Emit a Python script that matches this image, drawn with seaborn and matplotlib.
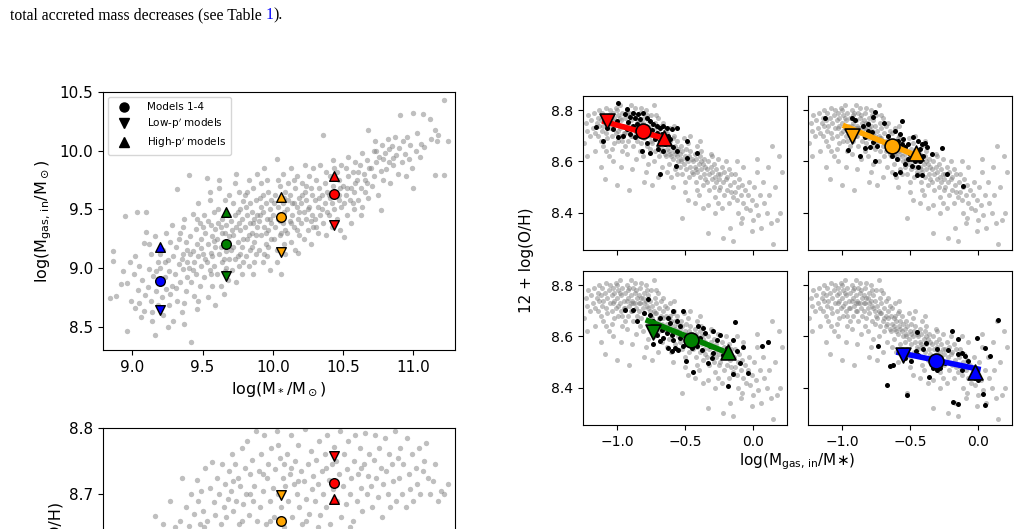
import numpy as np
import matplotlib
matplotlib.use('Agg')
import matplotlib.pyplot as plt
import seaborn as sns
from matplotlib.lines import Line2D

# ---- model points (order: blue, green, orange, red) ----
model_colors = ['blue', 'green', 'orange', 'red']
model_mstar = [9.20, 9.664, 10.06, 10.44]
model_mgas_mid = [8.891, 9.206, 9.430, 9.632]
model_mgas_low = [8.645, 8.928, 9.133, 9.365]
model_mgas_high = [9.175, 9.480, 9.606, 9.785]
model_oh_mid = [8.503, 8.586, 8.660, 8.717]
model_oh_low = [8.527, 8.616, 8.698, 8.757]
model_oh_high = [8.460, 8.538, 8.631, 8.693]

# linear trends drawn in the right panels (start / end)
trend_x = {'red': [-1.09, -0.65], 'orange': [-0.975, -0.45],
           'green': [-0.77, -0.18], 'blue': [-0.58, 0.0]}
trend_y = {'red': [8.755, 8.690], 'orange': [8.737, 8.622],
           'green': [8.661, 8.535], 'blue': [8.537, 8.473]}

# ---- background sample: log M* vs log Mgas,in ----
mstar_mgas_cloud = [
    (8.84, 8.74), (8.86, 9.06), (8.86, 9.14), (8.88, 8.76),
    (8.92, 8.86), (8.95, 9.44), (8.96, 8.46), (8.96, 8.87), (8.98, 9.05), (8.93, 8.97), (8.99, 8.72),
    (9.01, 8.95), (9.02, 8.66), (9.03, 9.48), (9.04, 8.81), (9.05, 9.02), (9.06, 8.58), (9.07, 8.90),
    (9.08, 9.21), (9.09, 8.77), (9.05, 8.70), (9.02, 9.10), (9.08, 8.63),
    (9.10, 9.48), (9.10, 9.31), (9.11, 8.84), (9.12, 8.99), (9.13, 8.72), (9.13, 9.12), (9.14, 8.62),
    (9.15, 8.93), (9.16, 8.43), (9.16, 9.27), (9.17, 8.80), (9.18, 9.05), (9.18, 8.68), (9.19, 8.88),
    (9.12, 9.20), (9.17, 8.97), (9.14, 8.55),
    (9.20, 9.00), (9.21, 8.75), (9.22, 9.15), (9.22, 8.60), (9.23, 8.92), (9.24, 9.30), (9.24, 8.82),
    (9.25, 9.07), (9.26, 8.68), (9.26, 8.97), (9.27, 9.22), (9.28, 9.37), (9.28, 8.85), (9.29, 8.55),
    (9.29, 9.10), (9.21, 8.87), (9.23, 9.05), (9.27, 8.78), (9.25, 8.50), (9.20, 9.12),
    (9.30, 8.95), (9.31, 9.18), (9.32, 9.67), (9.32, 8.72), (9.33, 9.03), (9.34, 8.88), (9.34, 9.30),
    (9.35, 8.62), (9.36, 9.12), (9.36, 8.99), (9.37, 8.52), (9.37, 9.42), (9.38, 8.80), (9.38, 9.22),
    (9.39, 9.05), (9.39, 8.92), (9.31, 8.83), (9.33, 9.25), (9.35, 9.08), (9.37, 8.70), (9.36, 9.35),
    (9.39, 9.15),
    (9.40, 9.79), (9.40, 9.00), (9.41, 9.27), (9.42, 8.37), (9.42, 8.88), (9.43, 9.14), (9.43, 9.46),
    (9.44, 8.76), (9.44, 9.05), (9.45, 9.33), (9.45, 8.95), (9.46, 9.20), (9.46, 8.65), (9.47, 9.10),
    (9.47, 9.55), (9.48, 8.85), (9.48, 9.38), (9.49, 9.02), (9.49, 9.25), (9.41, 9.12), (9.43, 8.98),
    (9.46, 9.42), (9.47, 8.72), (9.49, 9.17),
    (9.50, 9.12), (9.51, 8.92), (9.51, 9.45), (9.52, 9.30), (9.53, 9.77), (9.53, 9.05), (9.54, 8.75),
    (9.54, 9.20), (9.55, 9.58), (9.55, 8.98), (9.56, 9.37), (9.56, 9.13), (9.57, 8.85), (9.57, 9.27),
    (9.58, 9.48), (9.58, 9.02), (9.59, 9.18), (9.59, 8.68), (9.50, 9.35), (9.52, 9.08), (9.54, 9.40),
    (9.56, 8.95), (9.58, 9.23), (9.55, 9.65), (9.57, 9.10), (9.59, 9.33),
    (9.60, 9.25), (9.60, 8.95), (9.61, 9.50), (9.62, 9.12), (9.62, 9.68), (9.63, 8.85), (9.63, 9.35),
    (9.64, 9.05), (9.64, 9.42), (9.65, 9.20), (9.65, 8.78), (9.66, 9.58), (9.66, 9.30), (9.67, 9.00),
    (9.67, 9.14), (9.68, 9.45), (9.68, 8.90), (9.69, 9.27), (9.69, 9.62), (9.61, 9.38), (9.63, 9.18),
    (9.65, 9.08), (9.67, 9.37), (9.69, 9.08), (9.62, 9.75), (9.66, 8.97), (9.68, 9.22), (9.64, 9.30),
    (9.70, 9.15), (9.70, 9.40), (9.71, 8.98), (9.72, 9.28), (9.72, 9.55), (9.73, 9.08), (9.73, 9.72),
    (9.74, 9.35), (9.74, 8.88), (9.75, 9.22), (9.75, 9.48), (9.76, 9.02), (9.76, 9.65), (9.77, 9.32),
    (9.77, 9.12), (9.78, 9.42), (9.78, 8.95), (9.79, 9.25), (9.79, 9.57), (9.71, 9.32), (9.73, 9.45),
    (9.75, 9.10), (9.77, 9.50), (9.79, 9.05), (9.74, 9.80), (9.76, 9.38), (9.78, 9.18), (9.72, 9.18),
    (9.80, 9.35), (9.80, 9.62), (9.81, 9.10), (9.82, 9.45), (9.82, 9.25), (9.83, 9.75), (9.83, 9.02),
    (9.84, 9.38), (9.84, 9.55), (9.85, 9.18), (9.85, 9.30), (9.86, 9.68), (9.86, 8.95), (9.87, 9.42),
    (9.87, 9.22), (9.88, 9.58), (9.88, 9.12), (9.89, 9.35), (9.89, 9.80), (9.81, 9.52), (9.83, 9.28),
    (9.85, 9.48), (9.87, 9.05), (9.89, 9.45), (9.84, 9.15), (9.86, 9.38), (9.88, 9.28), (9.82, 9.65),
    (9.90, 9.40), (9.90, 9.15), (9.91, 9.60), (9.92, 9.28), (9.92, 9.72), (9.93, 9.05), (9.93, 9.48),
    (9.94, 9.35), (9.94, 9.85), (9.95, 9.20), (9.95, 9.55), (9.96, 9.42), (9.96, 9.10), (9.97, 9.65),
    (9.97, 9.32), (9.98, 9.50), (9.98, 8.98), (9.99, 9.38), (9.99, 9.25), (9.91, 9.45), (9.93, 9.62),
    (9.95, 9.30), (9.97, 9.18), (9.99, 9.58), (9.92, 9.52), (9.96, 9.75), (9.98, 9.42), (9.94, 9.12),
    (10.00, 9.45), (10.01, 9.25), (10.02, 9.62), (10.02, 9.35), (10.03, 9.93), (10.03, 9.15),
    (10.04, 9.52), (10.04, 9.42), (10.05, 9.70), (10.05, 9.28), (10.06, 8.95), (10.06, 9.58),
    (10.07, 9.38), (10.07, 9.80), (10.08, 9.20), (10.08, 9.48), (10.09, 9.65), (10.09, 9.32),
    (10.01, 9.55), (10.03, 9.05), (10.05, 9.40), (10.07, 9.55), (10.09, 9.12), (10.04, 9.75),
    (10.06, 9.30), (10.08, 9.60),
    (10.10, 9.50), (10.10, 9.30), (10.11, 9.72), (10.12, 9.40), (10.12, 9.62), (10.13, 9.22),
    (10.13, 9.85), (10.14, 9.55), (10.14, 9.45), (10.15, 9.35), (10.16, 9.68), (10.16, 9.15),
    (10.17, 9.52), (10.17, 9.78), (10.18, 9.13), (10.18, 9.42), (10.19, 9.60), (10.19, 9.28),
    (10.11, 9.58), (10.13, 9.38), (10.15, 9.75), (10.17, 9.32), (10.19, 9.48), (10.15, 9.55),
    (10.20, 9.55), (10.20, 9.38), (10.21, 9.72), (10.22, 9.48), (10.22, 9.25), (10.23, 9.65),
    (10.23, 9.88), (10.24, 9.42), (10.24, 9.58), (10.25, 9.32), (10.26, 9.78), (10.26, 9.52),
    (10.27, 9.68), (10.27, 9.20), (10.28, 9.45), (10.28, 9.62), (10.29, 9.35), (10.29, 9.85),
    (10.21, 9.62), (10.25, 9.50), (10.27, 9.40), (10.24, 9.70),
    (10.30, 9.58), (10.30, 9.42), (10.31, 9.75), (10.32, 9.52), (10.32, 9.30), (10.33, 9.68),
    (10.34, 9.88), (10.34, 9.45), (10.35, 9.62), (10.36, 10.13), (10.36, 9.38), (10.37, 9.72),
    (10.37, 9.55), (10.38, 9.28), (10.38, 9.82), (10.39, 9.48), (10.39, 9.65), (10.31, 9.35),
    (10.33, 9.60), (10.35, 9.50),
    (10.40, 9.62), (10.40, 9.45), (10.41, 9.78), (10.42, 9.55), (10.42, 9.35), (10.43, 9.70),
    (10.43, 9.92), (10.44, 9.50), (10.45, 9.65), (10.46, 9.82), (10.46, 9.42), (10.47, 9.58),
    (10.47, 9.75), (10.48, 9.32), (10.48, 9.68), (10.49, 9.88), (10.49, 9.52), (10.41, 9.60),
    (10.44, 9.85), (10.47, 9.62),
    (10.50, 9.70), (10.51, 9.26), (10.51, 9.55), (10.52, 9.85), (10.52, 9.62), (10.53, 9.45),
    (10.54, 9.78), (10.54, 9.95), (10.55, 9.58), (10.56, 9.68), (10.56, 9.38), (10.57, 9.82),
    (10.58, 9.65), (10.58, 9.50), (10.59, 9.90), (10.59, 9.72), (10.53, 9.68), (10.57, 9.55),
    (10.60, 9.75), (10.61, 9.58), (10.62, 9.88), (10.63, 9.68), (10.64, 9.98), (10.64, 9.52),
    (10.65, 9.80), (10.66, 9.65), (10.67, 9.92), (10.67, 9.72), (10.68, 10.18), (10.68, 9.60),
    (10.69, 9.85), (10.61, 9.82), (10.63, 9.45), (10.66, 9.75),
    (10.70, 9.85), (10.71, 9.70), (10.72, 10.00), (10.72, 9.78), (10.73, 10.08), (10.74, 9.90),
    (10.75, 9.62), (10.76, 9.95), (10.77, 9.49), (10.77, 9.83), (10.78, 10.05), (10.79, 9.75),
    (10.74, 10.00), (10.79, 9.93),
    (10.80, 9.98), (10.81, 9.84), (10.82, 10.10), (10.83, 9.90), (10.84, 9.72), (10.85, 10.04),
    (10.86, 9.88), (10.87, 10.12), (10.88, 9.96), (10.89, 9.80), (10.83, 10.01), (10.86, 9.94),
    (10.90, 10.02), (10.91, 10.30), (10.92, 9.90), (10.93, 10.08), (10.94, 9.97), (10.95, 9.78),
    (10.96, 10.12), (10.97, 9.93), (10.98, 10.05), (10.99, 9.85),
    (11.00, 10.32), (11.00, 9.68), (11.02, 10.00), (11.03, 10.15), (11.05, 9.95), (11.06, 10.06),
    (11.07, 10.31), (11.08, 10.03),
    (11.12, 10.27), (11.13, 10.10), (11.16, 10.18), (11.17, 10.08), (11.18, 10.13), (11.16, 9.79),
    (11.22, 9.79), (11.22, 10.43), (11.25, 10.08),
]

# ---- background sample: log M* vs 12+log(O/H) (upper part visible) ----
mstar_oh_cloud = [
    (9.16, 8.667), (9.22, 8.655), (9.27, 8.690), (9.30, 8.650), (9.12, 8.620), (9.25, 8.620),
    (9.34, 8.660), (9.35, 8.725), (9.38, 8.680), (9.40, 8.652), (9.42, 8.700), (9.44, 8.670),
    (9.46, 8.722), (9.47, 8.690), (9.48, 8.655), (9.49, 8.705), (9.36, 8.630), (9.45, 8.640),
    (9.50, 8.675), (9.52, 8.740), (9.53, 8.660), (9.55, 8.710), (9.57, 8.749), (9.58, 8.688),
    (9.59, 8.668), (9.60, 8.725), (9.62, 8.700), (9.63, 8.655), (9.64, 8.746), (9.65, 8.680),
    (9.66, 8.715), (9.68, 8.692), (9.69, 8.735), (9.51, 8.650), (9.61, 8.640), (9.67, 8.665),
    (9.70, 8.705), (9.71, 8.760), (9.72, 8.675), (9.73, 8.746), (9.74, 8.690), (9.75, 8.725),
    (9.76, 8.655), (9.77, 8.712), (9.78, 8.770), (9.79, 8.685), (9.80, 8.740), (9.81, 8.700),
    (9.82, 8.780), (9.83, 8.668), (9.84, 8.730), (9.85, 8.752), (9.86, 8.690), (9.87, 8.712),
    (9.88, 8.795), (9.89, 8.660), (9.72, 8.720), (9.78, 8.660), (9.84, 8.700),
    (9.90, 8.735), (9.91, 8.680), (9.92, 8.760), (9.93, 8.705), (9.94, 8.790), (9.95, 8.655),
    (9.96, 8.725), (9.97, 8.745), (9.98, 8.690), (9.99, 8.770), (10.00, 8.710), (10.01, 8.665),
    (10.02, 8.738), (10.03, 8.795), (10.04, 8.700), (10.05, 8.755), (10.06, 8.680), (10.07, 8.725),
    (10.08, 8.650), (10.09, 8.712), (9.93, 8.730), (9.98, 8.660), (10.04, 8.775), (10.08, 8.745),
    (10.10, 8.760), (10.11, 8.690), (10.12, 8.730), (10.13, 8.790), (10.14, 8.665), (10.15, 8.715),
    (10.16, 8.750), (10.17, 8.700), (10.18, 8.775), (10.19, 8.680), (10.20, 8.735), (10.21, 8.655),
    (10.22, 8.720), (10.23, 8.798), (10.24, 8.692), (10.25, 8.745), (10.26, 8.670), (10.27, 8.765),
    (10.28, 8.708), (10.29, 8.728), (10.13, 8.740), (10.18, 8.720), (10.24, 8.660),
    (10.30, 8.690), (10.31, 8.752), (10.32, 8.715), (10.33, 8.780), (10.34, 8.668), (10.35, 8.735),
    (10.36, 8.700), (10.37, 8.760), (10.38, 8.680), (10.39, 8.790), (10.40, 8.722), (10.41, 8.655),
    (10.42, 8.745), (10.43, 8.708), (10.44, 8.772), (10.46, 8.690), (10.47, 8.730), (10.48, 8.795),
    (10.49, 8.665), (10.32, 8.650), (10.38, 8.740), (10.45, 8.750),
    (10.50, 8.712), (10.51, 8.760), (10.52, 8.685), (10.53, 8.738), (10.54, 8.780), (10.55, 8.700),
    (10.56, 8.725), (10.57, 8.660), (10.58, 8.750), (10.59, 8.790), (10.60, 8.690), (10.61, 8.730),
    (10.62, 8.770), (10.63, 8.710), (10.64, 8.675), (10.65, 8.745), (10.66, 8.792), (10.67, 8.700),
    (10.68, 8.728), (10.69, 8.760), (10.55, 8.650), (10.63, 8.740),
    (10.70, 8.712), (10.71, 8.680), (10.72, 8.752), (10.73, 8.790), (10.74, 8.725), (10.75, 8.695),
    (10.76, 8.770), (10.77, 8.740), (10.78, 8.665), (10.79, 8.715), (10.80, 8.785), (10.81, 8.735),
    (10.82, 8.700), (10.83, 8.760), (10.84, 8.680), (10.85, 8.745), (10.86, 8.720), (10.87, 8.795),
    (10.88, 8.690), (10.89, 8.755),
    (10.90, 8.725), (10.91, 8.770), (10.92, 8.700), (10.93, 8.745), (10.95, 8.680), (10.96, 8.785),
    (10.97, 8.730), (10.98, 8.708), (10.99, 8.760), (11.00, 8.690), (11.02, 8.740), (11.03, 8.715),
    (11.04, 8.770), (11.05, 8.700), (11.07, 8.735), (11.08, 8.750), (11.09, 8.778),
    (11.11, 8.725), (11.12, 8.700), (11.14, 8.720), (11.16, 8.745), (11.18, 8.690), (11.20, 8.705),
    (11.22, 8.700), (11.25, 8.716),
]

# ---- background sample: log(Mgas,in/M*) vs 12+log(O/H) ----
frac_oh_cloud = [
    (-1.24, 8.67), (-1.23, 8.75), (-1.22, 8.72), (-1.21, 8.78), (-1.20, 8.70), (-1.19, 8.76),
    (-1.18, 8.73), (-1.17, 8.79), (-1.16, 8.64), (-1.16, 8.71), (-1.15, 8.75), (-1.22, 8.62),
    (-1.14, 8.77), (-1.14, 8.70), (-1.13, 8.74), (-1.13, 8.80), (-1.12, 8.68), (-1.12, 8.76),
    (-1.11, 8.72), (-1.11, 8.79), (-1.10, 8.74), (-1.10, 8.66), (-1.09, 8.77), (-1.09, 8.53),
    (-1.08, 8.71), (-1.08, 8.81), (-1.07, 8.75), (-1.07, 8.69), (-1.06, 8.78), (-1.06, 8.62),
    (-1.05, 8.73), (-1.05, 8.80), (-1.12, 8.58), (-1.08, 8.64),
    (-1.04, 8.76), (-1.04, 8.70), (-1.03, 8.79), (-1.03, 8.73), (-1.02, 8.67), (-1.02, 8.77),
    (-1.01, 8.81), (-1.01, 8.71), (-1.00, 8.75), (-1.00, 8.51), (-0.99, 8.78), (-0.99, 8.68),
    (-0.98, 8.73), (-0.98, 8.82), (-0.97, 8.70), (-0.97, 8.76), (-0.96, 8.79), (-0.96, 8.64),
    (-0.95, 8.74), (-0.95, 8.71), (-1.03, 8.60), (-1.00, 8.80), (-0.98, 8.77), (-0.97, 8.58),
    (-1.02, 8.74), (-0.99, 8.72), (-0.96, 8.68), (-1.04, 8.65),
    (-0.94, 8.77), (-0.94, 8.71), (-0.93, 8.80), (-0.93, 8.74), (-0.92, 8.68), (-0.92, 8.78),
    (-0.91, 8.72), (-0.91, 8.49), (-0.90, 8.76), (-0.90, 8.82), (-0.89, 8.70), (-0.89, 8.74),
    (-0.88, 8.79), (-0.88, 8.66), (-0.87, 8.73), (-0.87, 8.77), (-0.86, 8.71), (-0.86, 8.61),
    (-0.85, 8.75), (-0.85, 8.68), (-0.93, 8.63), (-0.91, 8.79), (-0.90, 8.70), (-0.89, 8.57),
    (-0.88, 8.73), (-0.87, 8.81), (-0.92, 8.75), (-0.86, 8.78), (-0.94, 8.66), (-0.90, 8.73),
    (-0.84, 8.76), (-0.84, 8.70), (-0.83, 8.73), (-0.83, 8.79), (-0.82, 8.67), (-0.82, 8.75),
    (-0.81, 8.71), (-0.81, 8.62), (-0.80, 8.77), (-0.80, 8.69), (-0.79, 8.74), (-0.79, 8.80),
    (-0.78, 8.66), (-0.78, 8.72), (-0.77, 8.76), (-0.77, 8.59), (-0.76, 8.70), (-0.76, 8.74),
    (-0.75, 8.68), (-0.75, 8.78), (-0.83, 8.64), (-0.80, 8.73), (-0.79, 8.56), (-0.78, 8.78),
    (-0.82, 8.81), (-0.76, 8.65), (-0.84, 8.73), (-0.81, 8.75), (-0.77, 8.71), (-0.80, 8.52),
    (-0.74, 8.72), (-0.74, 8.67), (-0.73, 8.82), (-0.73, 8.70), (-0.72, 8.75), (-0.72, 8.64),
    (-0.71, 8.69), (-0.71, 8.73), (-0.70, 8.66), (-0.70, 8.77), (-0.69, 8.62), (-0.69, 8.71),
    (-0.68, 8.68), (-0.68, 8.74), (-0.67, 8.65), (-0.67, 8.58), (-0.66, 8.70), (-0.66, 8.67),
    (-0.65, 8.63), (-0.65, 8.72), (-0.73, 8.60), (-0.71, 8.78), (-0.70, 8.54), (-0.68, 8.64),
    (-0.66, 8.75), (-0.72, 8.69), (-0.69, 8.67), (-0.74, 8.51),
    (-0.64, 8.68), (-0.64, 8.62), (-0.63, 8.71), (-0.63, 8.65), (-0.62, 8.59), (-0.62, 8.67),
    (-0.61, 8.73), (-0.61, 8.63), (-0.60, 8.66), (-0.60, 8.54), (-0.59, 8.69), (-0.59, 8.61),
    (-0.58, 8.64), (-0.58, 8.70), (-0.57, 8.57), (-0.57, 8.66), (-0.56, 8.62), (-0.56, 8.68),
    (-0.55, 8.60), (-0.55, 8.65), (-0.63, 8.56), (-0.61, 8.68), (-0.59, 8.50), (-0.58, 8.74),
    (-0.56, 8.55), (-0.62, 8.64), (-0.60, 8.62), (-0.57, 8.63),
    (-0.54, 8.63), (-0.54, 8.58), (-0.53, 8.66), (-0.53, 8.61), (-0.52, 8.55), (-0.52, 8.64),
    (-0.51, 8.69), (-0.51, 8.59), (-0.50, 8.62), (-0.50, 8.48), (-0.49, 8.65), (-0.49, 8.57),
    (-0.48, 8.60), (-0.48, 8.67), (-0.47, 8.54), (-0.47, 8.62), (-0.46, 8.58), (-0.46, 8.64),
    (-0.45, 8.56), (-0.45, 8.61), (-0.52, 8.38), (-0.50, 8.52), (-0.48, 8.45), (-0.46, 8.70),
    (-0.53, 8.60), (-0.49, 8.61),
    (-0.44, 8.60), (-0.44, 8.55), (-0.43, 8.63), (-0.43, 8.58), (-0.42, 8.52), (-0.42, 8.61),
    (-0.41, 8.66), (-0.41, 8.56), (-0.40, 8.59), (-0.40, 8.47), (-0.39, 8.62), (-0.39, 8.54),
    (-0.38, 8.57), (-0.38, 8.64), (-0.37, 8.51), (-0.37, 8.59), (-0.36, 8.55), (-0.36, 8.61),
    (-0.35, 8.53), (-0.35, 8.58), (-0.43, 8.44), (-0.41, 8.49), (-0.39, 8.68), (-0.37, 8.42),
    (-0.42, 8.57), (-0.38, 8.60),
    (-0.34, 8.57), (-0.34, 8.52), (-0.33, 8.60), (-0.33, 8.32), (-0.32, 8.55), (-0.32, 8.49),
    (-0.31, 8.58), (-0.31, 8.63), (-0.30, 8.53), (-0.30, 8.56), (-0.29, 8.50), (-0.29, 8.59),
    (-0.28, 8.54), (-0.28, 8.46), (-0.27, 8.57), (-0.27, 8.52), (-0.26, 8.55), (-0.26, 8.61),
    (-0.25, 8.49), (-0.25, 8.53), (-0.33, 8.43), (-0.30, 8.62), (-0.28, 8.40), (-0.26, 8.44),
    (-0.24, 8.55), (-0.24, 8.50), (-0.23, 8.58), (-0.22, 8.30), (-0.22, 8.52), (-0.21, 8.47),
    (-0.21, 8.56), (-0.20, 8.53), (-0.20, 8.60), (-0.19, 8.49), (-0.19, 8.54), (-0.18, 8.44),
    (-0.17, 8.51), (-0.17, 8.34), (-0.16, 8.48), (-0.16, 8.55), (-0.15, 8.29), (-0.15, 8.46),
    (-0.23, 8.42), (-0.18, 8.57),
    (-0.14, 8.52), (-0.13, 8.48), (-0.13, 8.55), (-0.12, 8.45), (-0.11, 8.50), (-0.11, 8.40),
    (-0.10, 8.53), (-0.09, 8.47), (-0.09, 8.36), (-0.08, 8.51), (-0.07, 8.44), (-0.07, 8.58),
    (-0.06, 8.49), (-0.05, 8.42), (-0.12, 8.60), (-0.08, 8.38),
    (-0.04, 8.47), (-0.03, 8.52), (-0.02, 8.41), (-0.01, 8.45), (0.00, 8.37), (0.01, 8.50),
    (0.02, 8.43), (0.03, 8.56), (0.04, 8.39), (0.05, 8.47), (-0.01, 8.33), (0.03, 8.61),
    (0.06, 8.34), (0.07, 8.52), (0.08, 8.44), (0.10, 8.40), (0.11, 8.58), (0.12, 8.47),
    (0.13, 8.36), (0.14, 8.66),
    (0.15, 8.28), (0.16, 8.50), (0.18, 8.37), (0.19, 8.62), (0.20, 8.40), (0.21, 8.56),
]

# ---- galaxies selected around each model (black points) ----
red_sample = [
    (-0.990, 8.827), (-0.929, 8.806), (-0.880, 8.788), (-0.843, 8.784), (-0.806, 8.787),
    (-0.941, 8.784), (-0.904, 8.774), (-0.868, 8.771), (-0.831, 8.765), (-0.782, 8.771),
    (-0.757, 8.758), (-0.733, 8.745), (-0.708, 8.739), (-0.684, 8.732), (-0.659, 8.739),
    (-0.635, 8.732), (-0.598, 8.726), (-0.561, 8.729), (-1.002, 8.758), (-0.966, 8.739),
    (-0.929, 8.726), (-0.904, 8.706), (-0.868, 8.694), (-0.831, 8.719), (-0.794, 8.732),
    (-0.757, 8.706), (-0.721, 8.687), (-0.684, 8.681), (-0.647, 8.668), (-0.610, 8.687),
    (-0.586, 8.655), (-0.561, 8.642), (-0.659, 8.642), (-0.696, 8.648), (-0.757, 8.631),
    (-0.819, 8.639), (-0.782, 8.671), (-1.100, 8.681), (-1.154, 8.735), (-0.488, 8.681),
    (-0.488, 8.612), (-0.409, 8.632), (-0.566, 8.584), (-0.684, 8.551), (-0.953, 8.700),
    (-0.990, 8.694), (-1.027, 8.726), (-1.076, 8.732), (-0.623, 8.700), (-0.672, 8.706),
    (-0.708, 8.709), (-0.745, 8.722), (-0.880, 8.739), (-0.917, 8.752), (-0.855, 8.745),
]
orange_sample = [
    (-1.125, 8.768), (-0.904, 8.761), (-0.929, 8.771), (-0.843, 8.739), (-0.806, 8.745),
    (-0.757, 8.791), (-0.770, 8.774), (-0.691, 8.748), (-0.806, 8.719), (-0.782, 8.713),
    (-0.831, 8.694), (-0.770, 8.674), (-0.745, 8.661), (-0.708, 8.681), (-0.659, 8.700),
    (-0.610, 8.719), (-0.574, 8.706), (-0.561, 8.758), (-0.586, 8.681), (-0.561, 8.668),
    (-0.537, 8.655), (-0.512, 8.668), (-0.475, 8.694), (-0.439, 8.681), (-0.414, 8.668),
    (-0.390, 8.670), (-0.377, 8.655), (-0.426, 8.648), (-0.463, 8.603), (-0.512, 8.609),
    (-0.488, 8.583), (-0.537, 8.590), (-0.598, 8.609), (-0.635, 8.622), (-0.647, 8.642),
    (-0.610, 8.551), (-0.574, 8.557), (-0.451, 8.548), (-0.414, 8.548), (-0.439, 8.577),
    (-0.868, 8.622), (-0.953, 8.644), (-0.757, 8.603), (-0.267, 8.651), (-0.341, 8.629),
    (-0.230, 8.553), (-0.108, 8.505), (-0.672, 8.652), (-0.549, 8.687), (-0.500, 8.629),
    (-0.402, 8.622), (-0.426, 8.603), (-0.794, 8.655), (-0.831, 8.652),
]
green_sample = [
    (-0.775, 8.747), (-0.941, 8.704), (-0.880, 8.702), (-0.801, 8.691), (-0.757, 8.685),
    (-0.855, 8.659), (-0.733, 8.659), (-0.684, 8.672), (-0.623, 8.672), (-0.586, 8.698),
    (-0.512, 8.698), (-0.561, 8.659), (-0.610, 8.652), (-0.537, 8.639), (-0.672, 8.626),
    (-0.635, 8.613), (-0.708, 8.607), (-0.659, 8.594), (-0.684, 8.584), (-0.733, 8.571),
    (-0.598, 8.607), (-0.586, 8.588), (-0.537, 8.594), (-0.623, 8.555), (-0.574, 8.555),
    (-0.549, 8.549), (-0.512, 8.562), (-0.598, 8.545), (-0.402, 8.639), (-0.365, 8.633),
    (-0.353, 8.613), (-0.292, 8.620), (-0.390, 8.594), (-0.414, 8.562), (-0.377, 8.549),
    (-0.316, 8.562), (-0.292, 8.536), (-0.304, 8.516), (-0.328, 8.497), (-0.243, 8.607),
    (-0.194, 8.555), (-0.132, 8.656), (-0.145, 8.588), (-0.120, 8.542), (-0.076, 8.558),
    (-0.096, 8.497), (-0.145, 8.452), (-0.181, 8.406), (-0.034, 8.458), (-0.493, 8.506),
    (-0.439, 8.462), (0.064, 8.562), (0.113, 8.578), (-0.451, 8.555), (-0.267, 8.588),
    (-0.218, 8.529),
]
blue_sample = [
    (-0.733, 8.564), (-0.451, 8.616), (-0.194, 8.623), (-0.145, 8.591), (-0.005, 8.594),
    (0.145, 8.665), (0.051, 8.555), (0.088, 8.525), (-0.150, 8.532), (-0.218, 8.549),
    (-0.301, 8.551), (-0.402, 8.553), (-0.458, 8.542), (-0.385, 8.575), (-0.493, 8.506),
    (-0.623, 8.490), (-0.647, 8.484), (-0.667, 8.410), (-0.520, 8.371), (-0.360, 8.441),
    (-0.304, 8.471), (-0.279, 8.477), (-0.243, 8.497), (-0.115, 8.471), (-0.120, 8.536),
    (-0.071, 8.503), (-0.022, 8.439), (0.002, 8.432), (0.039, 8.374), (0.051, 8.331),
    (-0.181, 8.344), (-0.145, 8.338), (-0.328, 8.477), (-0.292, 8.488), (-0.537, 8.516),
    (-0.439, 8.529), (-0.096, 8.523),
]
samples = {'red': red_sample, 'orange': orange_sample,
           'green': green_sample, 'blue': blue_sample}

# ---- figure ----
W, H = 1020, 529
fig = plt.figure(figsize=(W / 100, H / 100), dpi=100)
plt.rcParams['font.family'] = ['DejaVu Sans']


def gray_cloud(ax, pts, s=14):
    arr = np.array(pts)
    sns.scatterplot(x=arr[:, 0], y=arr[:, 1], color='grey', alpha=0.5, s=s,
                    linewidth=0, ax=ax, legend=False, zorder=1)


def model_markers(ax, xs_mid, xs_low, xs_high, ys_mid, ys_low, ys_high, s, lw, only=None):
    for i, c in enumerate(model_colors):
        if only is not None and c != only:
            continue
        for mk, xv, yv in (('o', xs_mid[i], ys_mid[i]),
                           ('v', xs_low[i], ys_low[i]),
                           ('^', xs_high[i], ys_high[i])):
            sns.scatterplot(x=[xv], y=[yv], marker=mk, color=c, s=s,
                            edgecolor='black', linewidth=lw, ax=ax,
                            legend=False, zorder=5)


# left top: M* vs Mgas,in
ax1 = fig.add_axes([103 / W, 1 - 350 / H, 352 / W, 258 / H])
gray_cloud(ax1, mstar_mgas_cloud, s=15)
model_markers(ax1, model_mstar, model_mstar, model_mstar,
              model_mgas_mid, model_mgas_low, model_mgas_high, s=48, lw=1.0)
ax1.set_xlim(8.79, 11.30)
ax1.set_ylim(8.30, 10.5)
ax1.set_xticks([9.0, 9.5, 10.0, 10.5, 11.0])
ax1.set_yticks([8.5, 9.0, 9.5, 10.0, 10.5])
ax1.tick_params(labelsize=11)
ax1.set_xlabel(r'log(M$_*$/M$_\odot$)', fontsize=11.5)
ax1.set_ylabel(r'log(M$_{\mathrm{gas,\,in}}$/M$_\odot$)', fontsize=11.5)
handles = [Line2D([], [], ls='none', marker='o', color='black', markersize=6.5),
           Line2D([], [], ls='none', marker='v', color='black', markersize=6.5),
           Line2D([], [], ls='none', marker='^', color='black', markersize=6.5)]
ax1.legend(handles, ['Models 1-4', r"Low-p$'$ models", r"High-p$'$ models"],
           loc='upper left', fontsize=7.5, handletextpad=1.2, borderpad=0.5,
           labelspacing=0.4)

# left bottom: M* vs O/H (cut by the page edge)
ax2 = fig.add_axes([103 / W, (529 - 428 - 258) / H, 352 / W, 258 / H])
gray_cloud(ax2, mstar_oh_cloud, s=15)
model_markers(ax2, model_mstar, model_mstar, model_mstar,
              model_oh_mid, model_oh_low, model_oh_high, s=48, lw=1.0)
ax2.set_xlim(8.79, 11.30)
ax2.set_ylim(8.41, 8.8)
ax2.set_yticks([8.7, 8.8])
ax2.set_xticks([9.0, 9.5, 10.0, 10.5, 11.0])
ax2.set_xticklabels([])
ax2.tick_params(labelsize=11)
ax2.set_ylabel('12 + log(O/H)', fontsize=11.5)

# right: gas fraction vs O/H, one panel per model
frac_mid = [g - m for g, m in zip(model_mgas_mid, model_mstar)]
frac_low = [g - m for g, m in zip(model_mgas_low, model_mstar)]
frac_high = [g - m for g, m in zip(model_mgas_high, model_mstar)]

panel_boxes = {'red': (583, 96), 'orange': (808, 96),
               'green': (583, 271), 'blue': (808, 271)}
for c, (px, py) in panel_boxes.items():
    ax = fig.add_axes([px / W, 1 - (py + 154) / H, 204 / W, 154 / H])
    gray_cloud(ax, frac_oh_cloud, s=13)
    arr = np.array(samples[c])
    sns.scatterplot(x=arr[:, 0], y=arr[:, 1], color='black', s=13, linewidth=0,
                    ax=ax, legend=False, zorder=2)
    sns.lineplot(x=trend_x[c], y=trend_y[c], color=c, lw=4, ax=ax,
                 legend=False, zorder=3)
    model_markers(ax, frac_mid, frac_low, frac_high,
                  model_oh_mid, model_oh_low, model_oh_high, s=115, lw=1.2, only=c)
    ax.set_xlim(-1.25, 0.25)
    ax.set_ylim(8.255, 8.855)
    ax.set_xticks([-1.0, -0.5, 0.0])
    ax.set_yticks([8.4, 8.6, 8.8])
    ax.tick_params(labelsize=10)
    if py < 200:
        ax.set_xticklabels([])
    if px > 700:
        ax.set_yticklabels([])

fig.text(527 / W, 1 - 260 / H, '12 + log(O/H)', rotation=90, ha='center',
         va='center', fontsize=11)
fig.text(797 / W, 1 - 462 / H, r'log(M$_{\mathrm{gas,\,in}}$/M$\ast$)',
         ha='center', va='center', fontsize=11)

# caption fragment from the page
renderer = fig.canvas.get_renderer()
cap_kw = dict(fontsize=11.3, family='Liberation Serif', va='baseline')
y0 = 1 - 19 / H
t1 = fig.text(10 / W, y0, 'total accreted mass decreases (see Table', **cap_kw)
bb = t1.get_window_extent(renderer)
t2 = fig.text((bb.x1 + 3.9) / W, y0, '1', color='blue', **cap_kw)
bb = t2.get_window_extent(renderer)
fig.text(bb.x1 / W, y0, ').', **cap_kw)

fig.savefig('out.png', dpi=100)
